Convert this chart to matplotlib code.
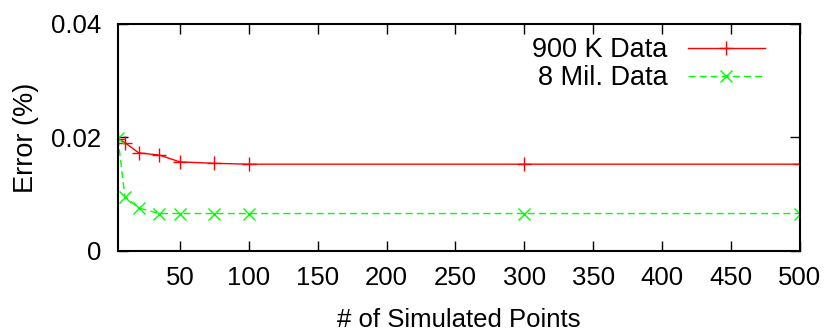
import matplotlib
matplotlib.use("Agg")
import matplotlib.pyplot as plt

# data
sim_points = [5, 10, 20, 35, 50, 75, 100, 300, 500]
err_900k = [0.0198, 0.0191, 0.0173, 0.0169, 0.0157, 0.01545, 0.0153, 0.0153, 0.0153]
err_8mil = [0.0199, 0.0096, 0.0076, 0.0066, 0.0066, 0.0066, 0.0066, 0.0066, 0.0066]
x_ticks = [50, 100, 150, 200, 250, 300, 350, 400, 450, 500]
y_ticks = [0, 0.02, 0.04]
y_tick_labels = ["0", "0.02", "0.04"]

plt.rcParams['font.family'] = ['Liberation Sans', 'DejaVu Sans']
fs = 18.5
leg_fs = 19.5

fig = plt.figure(figsize=(8.28, 3.31), dpi=100)
ax = fig.add_axes([0.1425, 0.2417, 0.8235, 0.6858])

ax.plot(sim_points, err_900k, color='#ff0000', linestyle='-', linewidth=1.0,
        marker='+', markersize=10, markeredgewidth=1.0, label='900 K Data')
ax.plot(sim_points, err_8mil, color='#00ff00', linestyle=(0, (5, 3)), linewidth=1.0,
        marker='x', markersize=9, markeredgewidth=1.0, label='8 Mil. Data')

ax.set_xlim(5, 500)
ax.set_ylim(0, 0.04)
ax.set_xticks(x_ticks)
ax.set_yticks(y_ticks)
ax.set_yticklabels(y_tick_labels)
ax.tick_params(direction='in', length=7, width=1, top=True, right=True,
               labelsize=fs)
ax.tick_params(axis='y', pad=12)
ax.tick_params(axis='x', pad=11)
for sp in ax.spines.values():
    sp.set_linewidth(1.5)

ax.set_xlabel('# of Simulated Points', fontsize=fs, labelpad=13)
ax.set_ylabel('Error (%)', fontsize=19.5, labelpad=9)

leg = ax.legend(loc='upper right', bbox_to_anchor=(0.949, 0.942),
                frameon=False, fontsize=leg_fs, markerfirst=False,
                handlelength=2.85, handletextpad=0.74, labelspacing=0.08,
                borderaxespad=0, borderpad=0)

fig.savefig('out.png', dpi=100)
